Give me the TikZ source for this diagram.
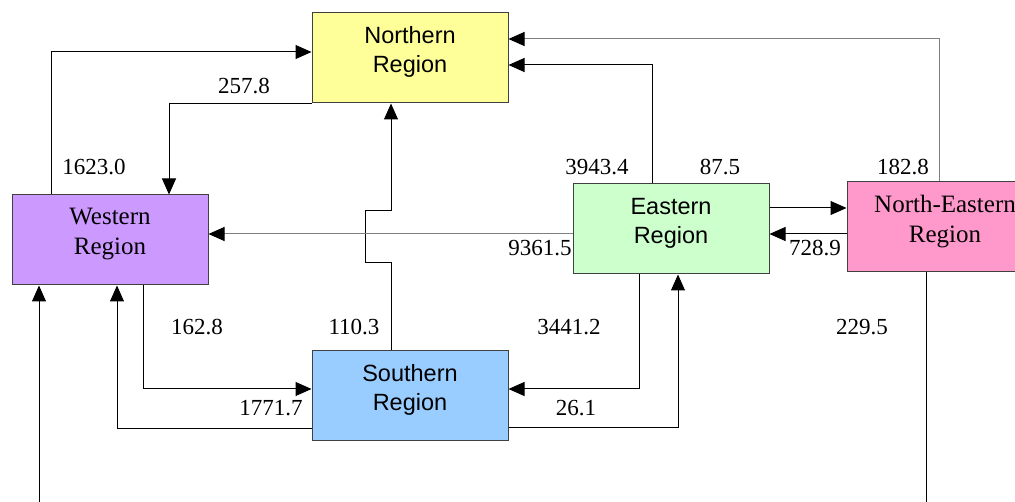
\documentclass[tikz,border=0pt]{standalone}
\usepackage{fontspec}
\setmainfont{Liberation Serif}
\newfontfamily\regsans{Liberation Sans}
\usetikzlibrary{arrows.meta, positioning}
\definecolor{northfill}{HTML}{FFFF99}
\definecolor{westfill}{HTML}{CC99FF}
\definecolor{eastfill}{HTML}{CCFFCC}
\definecolor{nefill}{HTML}{FF99CC}
\definecolor{southfill}{HTML}{99CCFF}
\tikzset{
  region/.style={draw=black!75, line width=1pt, minimum width=196pt, minimum height=90pt,
    align=center, inner sep=0pt, text depth=17pt, font=\fontsize{25}{30}\selectfont},
  sansregion/.style={region, font=\regsans\fontsize{23.5}{29}\selectfont},
  flow/.style={line width=1pt, -{Triangle[length=16pt, width=14pt, color=black]}},
  faint/.style={draw=black!50},
  qty/.style={inner sep=0pt, font=\fontsize{23}{27}\selectfont},
}

\begin{document}
\begin{tikzpicture}[x=1pt, y=-1pt]
  \useasboundingbox (0,0) rectangle (1015,502);
  \clip (0,0) rectangle (1015,502);

  % regions
  \node[sansregion, fill=northfill] (north) at (410,58) {Northern\\Region};
  \node[region, fill=westfill] (west) at (110,240) {Western\\Region};
  \node[sansregion, fill=eastfill] (east) at (671,229) {Eastern\\Region};
  \node[region, fill=nefill] (ne) at (945,227) {North-Eastern\\Region};
  \node[sansregion, fill=southfill] (south) at (410,396) {Southern\\Region};
  \coordinate (neout) at (926,502);
  \coordinate (westin) at (39,502);

  % flows
  \draw[flow] ([xshift=-59pt]west.north) |- ([yshift=6pt]north.west);
  \draw[flow] (north.south west) -| ([xshift=59pt]west.north);
  \draw[flow] ([xshift=-19pt]south.north) -- ++(0,-88) -- ++(-26,0) -- ++(0,-52) -- ++(26,0)
    -- ([xshift=-19pt]north.south);
  \draw[flow, faint] ([yshift=-5pt]east.west) -- ([yshift=-5pt]east.west -| west.east);
  \draw[flow] ([xshift=-19pt]east.north) |- ([yshift=-7pt]north.east);
  \draw[flow, faint] ([xshift=-6pt]ne.north) |- ([yshift=19pt]north.east);
  \draw[flow] ([yshift=21pt]east.east) -- ([yshift=21pt]east.east -| ne.west);
  \draw[flow] ([yshift=-7pt]ne.west) -- ([yshift=-7pt]ne.west -| east.east);
  \draw[flow] ([xshift=33pt]west.south) |- ([yshift=7pt]south.west);
  \draw[flow] ([yshift=-33pt]south.west) -| ([xshift=7pt]west.south);
  \draw[flow] ([xshift=-32pt]east.south) |- ([yshift=7pt]south.east);
  \draw[flow] ([yshift=-32pt]south.east) -| ([xshift=7pt]east.south);
  \draw[line width=1pt] ([xshift=-19pt]ne.south) -- (neout);
  \draw[flow] (westin) -- (westin |- west.south);

  % quantities
  \foreach \val/\x/\y [count=\i] in {1623.0/94/167, 257.8/244/86, 3943.4/597/167,
      87.5/720/167, 182.8/903/167, 9361.5/540/248, 728.9/815/248, 162.8/197/327,
      110.3/354/327, 1771.7/271/408, 3441.2/569/327, 26.1/576/408, 229.5/862/327}
    \node[qty] (q\i) at (\x,\y) {\val};
\end{tikzpicture}
\end{document}
